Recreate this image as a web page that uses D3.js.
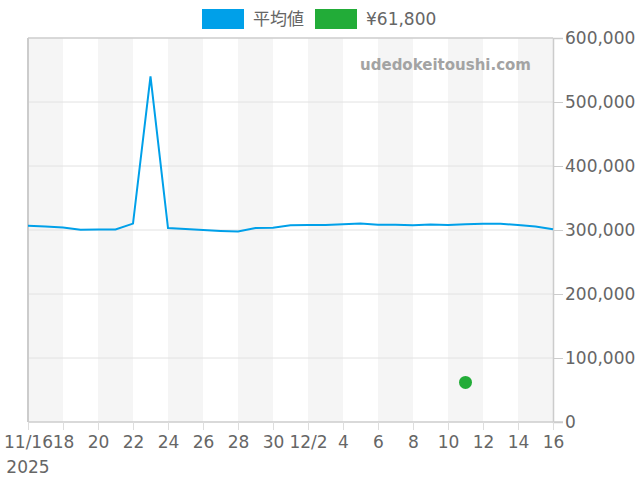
<!DOCTYPE html>
<html><head><meta charset="utf-8">
<script src="https://cdn.jsdelivr.net/npm/d3@7"></script>
<style>
html,body{margin:0;padding:0;background:#fff;}
svg{display:block;font-family:"DejaVu Sans","Noto Sans CJK JP",sans-serif;}
</style></head><body>
<svg id="c" width="640" height="480"></svg>
<script>
const dates = ["2025-11-16","2025-11-17","2025-11-18","2025-11-19","2025-11-20","2025-11-21","2025-11-22","2025-11-23","2025-11-24","2025-11-25","2025-11-26","2025-11-27","2025-11-28","2025-11-29","2025-11-30","2025-12-01","2025-12-02","2025-12-03","2025-12-04","2025-12-05","2025-12-06","2025-12-07","2025-12-08","2025-12-09","2025-12-10","2025-12-11","2025-12-12","2025-12-13","2025-12-14","2025-12-15","2025-12-16"];
const avgValues = [306500,305500,304000,300500,300800,300800,310000,540000,303000,301500,300000,298500,297500,303000,303600,307500,307800,308000,309000,310000,308300,308300,307300,308500,308000,309000,309800,309800,307800,305500,301000];
const pointDate = "2025-12-11";
const pointValue = 61800;
const seriesNames = ["平均値","¥61,800"];
const xTickDates = ["2025-11-16","2025-11-18","2025-11-20","2025-11-22","2025-11-24","2025-11-26","2025-11-28","2025-11-30","2025-12-02","2025-12-04","2025-12-06","2025-12-08","2025-12-10","2025-12-12","2025-12-14","2025-12-16"];
const xTickLabels = ["11/16","18","20","22","24","26","28","30","12/2","4","6","8","10","12","14","16"];
const yTicks = [0,100000,200000,300000,400000,500000,600000];
const yearLabel = "2025";
const watermark = "udedokeitoushi.com";

const parse = d3.timeParse("%Y-%m-%d");
const svg = d3.select("#c");
const L = 28, R = 553, T = 38, B = 422;
const x = d3.scaleTime().domain([parse(dates[0]), parse(dates[dates.length-1])]).range([L, R]);
const y = d3.scaleLinear().domain([0, 600000]).range([B, T]);
const blue = "#00a0e9", green = "#22ac38", txt = "#666";

// alternating bands
const bandStarts = xTickDates.filter((d,i)=> i%2===0 && i < xTickDates.length-1);
svg.append("g").selectAll("rect").data(bandStarts).join("rect")
  .attr("x", d=>x(parse(d)))
  .attr("width", d=>x(d3.timeDay.offset(parse(d),2)) - x(parse(d)))
  .attr("y", T).attr("height", B-T).attr("fill", "#f5f5f5");

// horizontal grid
svg.append("g").selectAll("line").data(yTicks.filter(v=>v>0 && v<600000)).join("line")
  .attr("x1", L).attr("x2", R).attr("y1", d=>y(d)).attr("y2", d=>y(d))
  .attr("stroke", "#e2e2e2").attr("stroke-width", 1);

// border
svg.append("line").attr("x1", L).attr("x2", L).attr("y1", T).attr("y2", B).attr("stroke", "#ccc").attr("stroke-width", 2);
svg.append("line").attr("x1", L).attr("x2", R).attr("y1", T).attr("y2", T).attr("stroke", "#ccc").attr("stroke-width", 1.5);

// y axis (right)
const yAxis = d3.axisRight(y).tickValues(yTicks).tickSize(10).tickPadding(2).tickFormat(d3.format(","));
const ya = svg.append("g").attr("transform", `translate(${R},0)`).call(yAxis);
ya.select(".domain").attr("stroke", "#ccc").attr("stroke-width", 1.5);
ya.selectAll(".tick line").attr("stroke", "#ccc");
ya.selectAll(".tick text").attr("fill", txt).attr("font-size", 17).attr("font-family", "DejaVu Sans");

// x axis
const xAxis = d3.axisBottom(x).tickValues(xTickDates.map(parse)).tickSize(8).tickPadding(6)
  .tickFormat((d,i)=>xTickLabels[i]);
const xa = svg.append("g").attr("transform", `translate(0,${B})`).call(xAxis);
xa.select(".domain").attr("stroke", "#ccc").attr("stroke-width", 1.5).attr("d", `M${L},0H${R+10}`);
xa.selectAll(".tick line").attr("stroke", "#ddd");
xa.selectAll(".tick text").attr("fill", txt).attr("font-size", 17).attr("font-family", "DejaVu Sans");
svg.append("text").attr("x", x(parse(dates[0]))).attr("y", 473).attr("text-anchor", "middle")
  .attr("fill", txt).attr("font-size", 17).text(yearLabel);

// watermark
svg.append("text").attr("x", 531).attr("y", 70).attr("text-anchor", "end")
  .attr("fill", "#a3a3a3").attr("font-size", 15).attr("font-weight", "bold").text(watermark);

// line
const line = d3.line().x((d,i)=>x(parse(dates[i]))).y(d=>y(d));
svg.append("path").datum(avgValues).attr("d", line).attr("fill", "none")
  .attr("stroke", blue).attr("stroke-width", 2);

// point
svg.append("circle").attr("cx", x(parse(pointDate))).attr("cy", y(pointValue)).attr("r", 6.5).attr("fill", green);

// legend
const lg = svg.append("g");
const items = [{name: seriesNames[0], color: blue, x: 202}, {name: seriesNames[1], color: green, x: 315}];
lg.selectAll("rect").data(items).join("rect").attr("x", d=>d.x).attr("y", 9).attr("width", 42).attr("height", 20).attr("fill", d=>d.color);
lg.selectAll("text").data(items).join("text").attr("x", d=>d.x+51).attr("y", 25).attr("fill", txt).attr("font-size", 17)
  .attr("font-family", "DejaVu Sans, Noto Sans CJK JP").text(d=>d.name);
</script>
</body></html>
